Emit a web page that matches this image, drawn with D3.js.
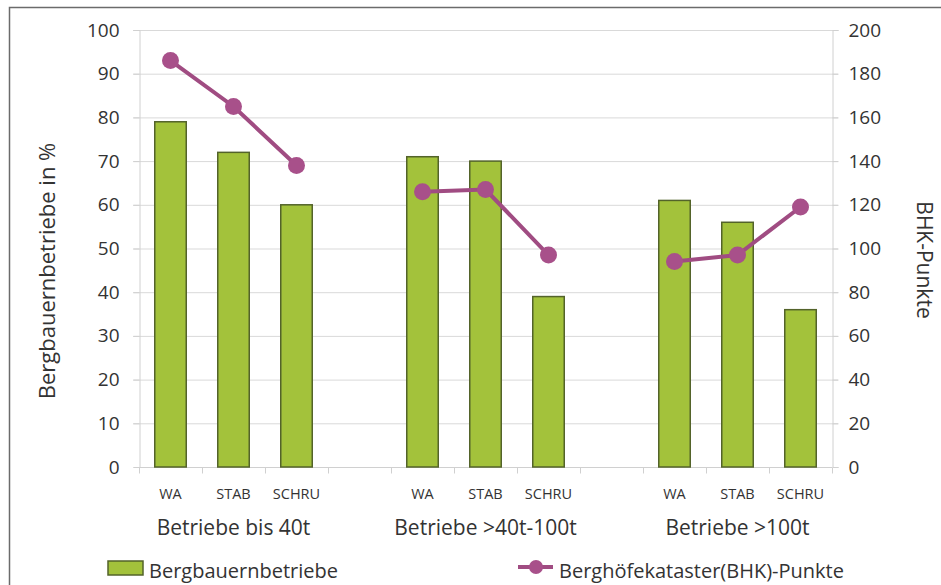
<!DOCTYPE html>
<html>
<head>
<meta charset="utf-8">
<script src="https://cdn.jsdelivr.net/npm/d3@7"></script>
<style>
  html, body { margin: 0; padding: 0; background: #fff; }
  svg text { font-family: "Open Sans", "Noto Sans", sans-serif; fill: #333; }
</style>
</head>
<body>
<svg id="chart" width="941" height="585"></svg>
<script>
// ---- data ----
const groups = ["Betriebe bis 40t", "Betriebe >40t-100t", "Betriebe >100t"];
const subcats = ["WA", "STAB", "SCHRU"];
const bergbauern = [[79, 72, 60], [71, 70, 39], [61, 56, 36]];      // left axis, %
const bhkPunkte = [[186, 165, 138], [126, 127, 97], [94, 97, 119]];  // right axis
const leftTicks = [0, 10, 20, 30, 40, 50, 60, 70, 80, 90, 100];
const rightTicks = [0, 20, 40, 60, 80, 100, 120, 140, 160, 180, 200];
const seriesNames = ["Bergbauernbetriebe", "Berghöfekataster(BHK)-Punkte"];
const axisTitles = ["Bergbauernbetriebe in %", "BHK-Punkte"];

(function () {
// slots: 3 bars per group, an empty slot between groups
const slots = [];
groups.forEach((g, gi) => {
  subcats.forEach((s, si) => slots.push({ key: gi + "-" + si, label: s, gi, si }));
  if (gi < groups.length - 1) slots.push({ key: "gap" + gi, label: "", gi: -1, si: -1 });
});

const svg = d3.select("#chart");
const W = 941, H = 585;
const pL = 139, pR = 832, pT = 30, pB = 467;

const barColor = "#a3c23b", barStroke = "#53632a";
const lineColor = "#a04c82", dotColor = "#a8508a";

// frame
svg.append("rect").attr("x", 9.5).attr("y", 7.5).attr("width", W + 10).attr("height", H + 10)
  .attr("fill", "none").attr("stroke", "#6b6b6b").attr("stroke-width", 1.5);

const x = d3.scaleBand().domain(slots.map(d => d.key)).range([pL, pR]).padding(0);
const yL = d3.scaleLinear().domain([0, 100]).range([pB, pT]);
const yR = d3.scaleLinear().domain([0, 200]).range([pB, pT]);

// gridlines
svg.append("g").selectAll("line").data(leftTicks.filter(t => t > 0)).join("line")
  .attr("x1", pL - 6).attr("x2", pR + 6)
  .attr("y1", d => yL(d) + 0.5).attr("y2", d => yL(d) + 0.5)
  .attr("stroke", "#d9d9d9").attr("stroke-width", 1);

// left axis
const axL = svg.append("g").attr("transform", `translate(${pL + 0.5},0)`)
  .call(d3.axisLeft(yL).tickValues(leftTicks).tickSize(6).tickPadding(14));
axL.select(".domain").attr("stroke", "#d0d0d0");
axL.selectAll(".tick line").attr("stroke", "#d0d0d0");
axL.selectAll(".tick text").attr("font-size", 19).attr("fill", "#333")
  .attr("font-family", "'Open Sans', sans-serif");

// right axis
const axR = svg.append("g").attr("transform", `translate(${pR + 0.5},0)`)
  .call(d3.axisRight(yR).tickValues(rightTicks).tickSize(6).tickPadding(10));
axR.select(".domain").attr("stroke", "#d0d0d0");
axR.selectAll(".tick line").attr("stroke", "#d0d0d0");
axR.selectAll(".tick text").attr("font-size", 19).attr("fill", "#333")
  .attr("font-family", "'Open Sans', sans-serif");

// bottom axis (category boundaries)
const axB = svg.append("g").attr("transform", `translate(0,${pB + 0.5})`);
axB.append("line").attr("x1", pL).attr("x2", pR).attr("stroke", "#d0d0d0");
const bounds = slots.map(d => x(d.key)).concat([pR]);
axB.selectAll("line.tk").data(bounds).join("line").attr("class", "tk")
  .attr("x1", d => d + 0.5).attr("x2", d => d + 0.5).attr("y1", 0).attr("y2", 6)
  .attr("stroke", "#d0d0d0");

// bars
const bw = x.bandwidth() * 0.5;
const barData = slots.filter(d => d.gi >= 0).map(d => ({ ...d, v: bergbauern[d.gi][d.si] }));
svg.append("g").selectAll("rect").data(barData).join("rect")
  .attr("x", d => x(d.key) + (x.bandwidth() - bw) / 2)
  .attr("y", d => yL(d.v))
  .attr("width", bw)
  .attr("height", d => yL(0) - yL(d.v))
  .attr("fill", barColor).attr("stroke", barStroke).attr("stroke-width", 1.5);

// lines per group
const cx = d => x(d.key) + x.bandwidth() / 2;
groups.forEach((g, gi) => {
  const pts = slots.filter(d => d.gi === gi).map(d => ({ ...d, v: bhkPunkte[gi][d.si] }));
  svg.append("path").datum(pts)
    .attr("d", d3.line().x(cx).y(d => yR(d.v)))
    .attr("fill", "none").attr("stroke", lineColor).attr("stroke-width", 4);
  svg.append("g").selectAll("circle").data(pts).join("circle")
    .attr("cx", cx).attr("cy", d => yR(d.v)).attr("r", 8.5)
    .attr("fill", dotColor);
});

// category labels
svg.append("g").selectAll("text").data(slots.filter(d => d.gi >= 0)).join("text")
  .attr("x", cx).attr("y", 499).attr("text-anchor", "middle")
  .attr("font-size", 14.5).text(d => d.label);

// group labels
svg.append("g").selectAll("text").data(groups).join("text")
  .attr("x", (g, gi) => cx(slots.find(s => s.gi === gi && s.si === 1)))
  .attr("y", 535).attr("text-anchor", "middle")
  .attr("font-size", 21).text(d => d);

// axis titles
svg.append("text").attr("transform", "translate(55,271) rotate(-90)")
  .attr("text-anchor", "middle").attr("font-size", 22).text(axisTitles[0]);
svg.append("text").attr("transform", "translate(917,260) rotate(90)")
  .attr("text-anchor", "middle").attr("font-size", 21).text(axisTitles[1]);

// legend
const lg = svg.append("g");
lg.append("rect").attr("x", 108).attr("y", 561).attr("width", 35).attr("height", 14)
  .attr("fill", barColor).attr("stroke", barStroke).attr("stroke-width", 1.5);
lg.append("text").attr("x", 149).attr("y", 578).attr("font-size", 20).text(seriesNames[0]);
lg.append("line").attr("x1", 518).attr("x2", 553).attr("y1", 567).attr("y2", 567)
  .attr("stroke", lineColor).attr("stroke-width", 4);
lg.append("circle").attr("cx", 536).attr("cy", 567).attr("r", 7).attr("fill", dotColor);
lg.append("text").attr("x", 559).attr("y", 578).attr("font-size", 20).text(seriesNames[1]);
})();
</script>
</body>
</html>
